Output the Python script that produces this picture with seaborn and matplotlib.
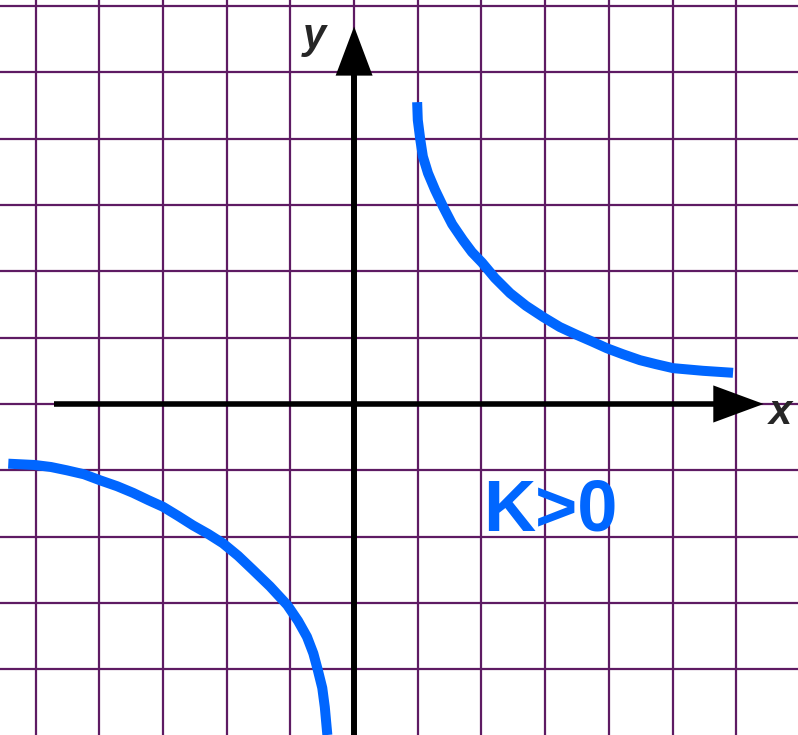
import numpy as np
import pandas as pd
import matplotlib
matplotlib.use("Agg")
import matplotlib.pyplot as plt
import seaborn as sns

# points (grid units)
right_x = [0.99, 1.00, 1.04, 1.08, 1.16, 1.27, 1.40, 1.54, 1.71, 1.85, 2.01, 2.21, 2.45,
           2.70, 2.97, 3.23, 3.50, 3.74, 3.97, 4.22, 4.49, 4.74, 5.01, 5.48, 5.95]
right_y = [4.55, 4.28, 3.98, 3.73, 3.48, 3.23, 2.97, 2.71, 2.47, 2.29, 2.13, 1.90, 1.67,
           1.48, 1.31, 1.16, 1.04, 0.94, 0.84, 0.75, 0.66, 0.60, 0.54, 0.50, 0.47]

left_x = [-5.43, -5.01, -4.76, -4.51, -4.24, -3.99, -3.72, -3.47, -3.23, -3.00, -2.76, -2.53, -2.29,
          -2.06, -1.82, -1.59, -1.32, -1.05, -0.88, -0.74, -0.64, -0.57, -0.50, -0.46, -0.42]
left_y = [-0.90, -0.92, -0.95, -1.00, -1.06, -1.15, -1.24, -1.34, -1.45, -1.55, -1.69, -1.83, -1.96,
          -2.10, -2.29, -2.50, -2.75, -3.03, -3.27, -3.51, -3.76, -4.01, -4.28, -4.57, -4.99]

grid_x = list(range(-5, 7))
grid_y = list(range(-4, 7))

label_k = "K>0"
blue = "#0066ff"
grid_col = "#5e1b63"

df = pd.concat([
    pd.DataFrame({"x": right_x, "y": right_y, "branch": "right"}),
    pd.DataFrame({"x": left_x, "y": left_y, "branch": "left"}),
])

sns.set_style("white")
plt.rcParams['font.family'] = ['Liberation Sans', 'DejaVu Sans']

fig = plt.figure(figsize=(7.98, 7.35), dpi=100)
ax = fig.add_axes([0, 0, 1, 1])
ax.set_xlim(-5.56, 6.97)
ax.set_ylim(-4.99, 6.09)

# grid paper
for gx in grid_x:
    ax.axvline(gx, color=grid_col, lw=1.6, zorder=1)
for gy in grid_y:
    ax.axhline(gy, color=grid_col, lw=1.6, zorder=1)

# axes with arrow heads
ax.plot([-4.71, 5.8], [0, 0], color="black", lw=4, zorder=3, solid_capstyle="butt")
ax.fill([5.64, 6.43, 5.64], [0.28, 0, -0.28], color="black", zorder=3, lw=0)
ax.plot([0, 0], [-5.2, 5.0], color="black", lw=4.3, zorder=3, solid_capstyle="butt")
ax.fill([-0.29, 0, 0.29], [4.95, 5.69, 4.95], color="black", zorder=3, lw=0)

sns.lineplot(data=df, x="x", y="y", units="branch", estimator=None, sort=False,
             color=blue, lw=7.2, ax=ax, zorder=4, legend=False)
for ln in ax.lines:
    if ln.get_color() == blue:
        ln.set_solid_capstyle("butt")
        ln.set_solid_joinstyle("round")

ax.text(-0.63, 5.37, "y", fontsize=30, fontweight="bold", style="italic",
        ha="center", va="baseline", zorder=5)
ax.text(6.69, -0.14, "x", fontsize=30, fontweight="bold", style="italic",
        ha="center", va="center", zorder=5)
ax.text(3.08, -1.90, label_k, fontsize=52, fontweight="bold", color=blue,
        ha="center", va="baseline", zorder=5)

ax.set_axis_off()
fig.savefig("out.png", dpi=100, facecolor="white")
